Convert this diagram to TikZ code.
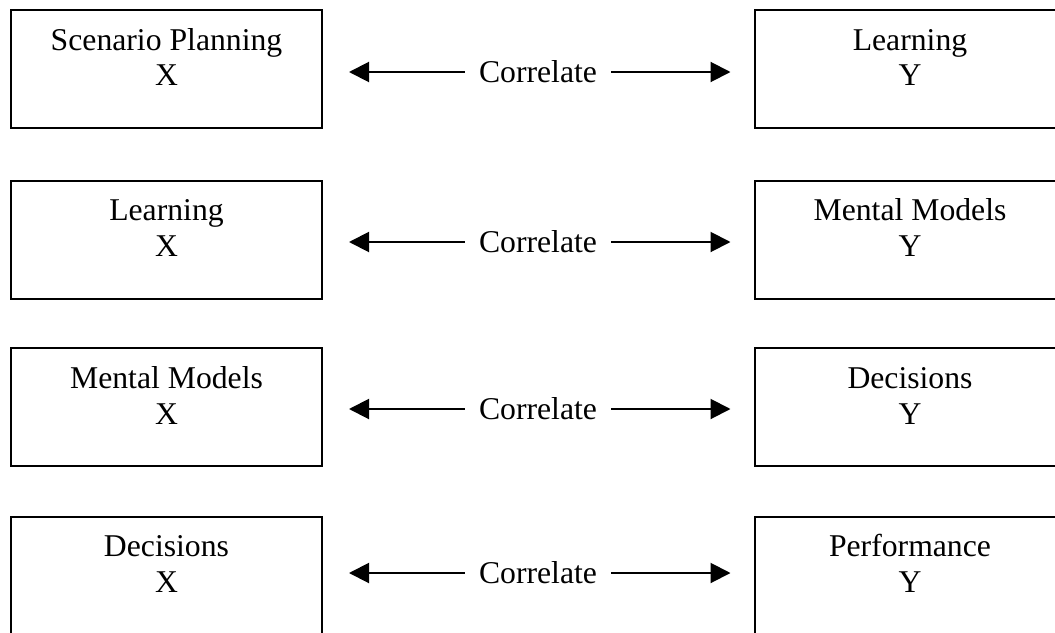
\documentclass[tikz,border=0pt]{standalone}
\usepackage{fontspec}
\setmainfont{Liberation Serif}
\usetikzlibrary{arrows.meta}

\begin{document}
\begin{tikzpicture}[x=1pt, y=-1pt,
  box/.style={draw, line width=2pt, rectangle, inner sep=0pt,
              minimum width=311pt, minimum height=118pt},
  lbl/.style={font=\fontsize{31.7}{35}\selectfont, inner sep=0pt, anchor=base},
  corr/.style={font=\fontsize{31.7}{35}\selectfont, inner xsep=14pt, inner ysep=0pt},
  link/.style={line width=2pt, -{Triangle[length=20pt, width=20pt]}}]
\useasboundingbox (0,0) rectangle (1055,632);

% row 1
\node[box] (x1) at (166.5,69) {};
\node[box] (y1) at (910,69) {};
\node[lbl] (x1a) at (166.5,50) {Scenario Planning};
\node[lbl] (x1b) at (166.5,85) {X};
\node[lbl] (y1a) at (910,50) {Learning};
\node[lbl] (y1b) at (910,85) {Y};
\node[corr] (c1) at (538,72) {Correlate};
\draw[link, shorten >=26pt] (c1.west) -- (x1.east |- c1);
\draw[link, shorten >=23pt] (c1.east) -- (y1.west |- c1);

% row 2
\node[box] (x2) at (166.5,240) {};
\node[box] (y2) at (910,240) {};
\node[lbl] (x2a) at (166.5,220) {Learning};
\node[lbl] (x2b) at (166.5,256) {X};
\node[lbl] (y2a) at (910,220) {Mental Models};
\node[lbl] (y2b) at (910,256) {Y};
\node[corr] (c2) at (538,242) {Correlate};
\draw[link, shorten >=26pt] (c2.west) -- (x2.east |- c2);
\draw[link, shorten >=23pt] (c2.east) -- (y2.west |- c2);

% row 3
\node[box] (x3) at (166.5,407) {};
\node[box] (y3) at (910,407) {};
\node[lbl] (x3a) at (166.5,388) {Mental Models};
\node[lbl] (x3b) at (166.5,424) {X};
\node[lbl] (y3a) at (910,388) {Decisions};
\node[lbl] (y3b) at (910,424) {Y};
\node[corr] (c3) at (538,409) {Correlate};
\draw[link, shorten >=26pt] (c3.west) -- (x3.east |- c3);
\draw[link, shorten >=23pt] (c3.east) -- (y3.west |- c3);

% row 4
\node[box] (x4) at (166.5,576) {};
\node[box] (y4) at (910,576) {};
\node[lbl] (x4a) at (166.5,556) {Decisions};
\node[lbl] (x4b) at (166.5,592) {X};
\node[lbl] (y4a) at (910,556) {Performance};
\node[lbl] (y4b) at (910,592) {Y};
\node[corr] (c4) at (538,573) {Correlate};
\draw[link, shorten >=26pt] (c4.west) -- (x4.east |- c4);
\draw[link, shorten >=23pt] (c4.east) -- (y4.west |- c4);
\end{tikzpicture}
\end{document}
